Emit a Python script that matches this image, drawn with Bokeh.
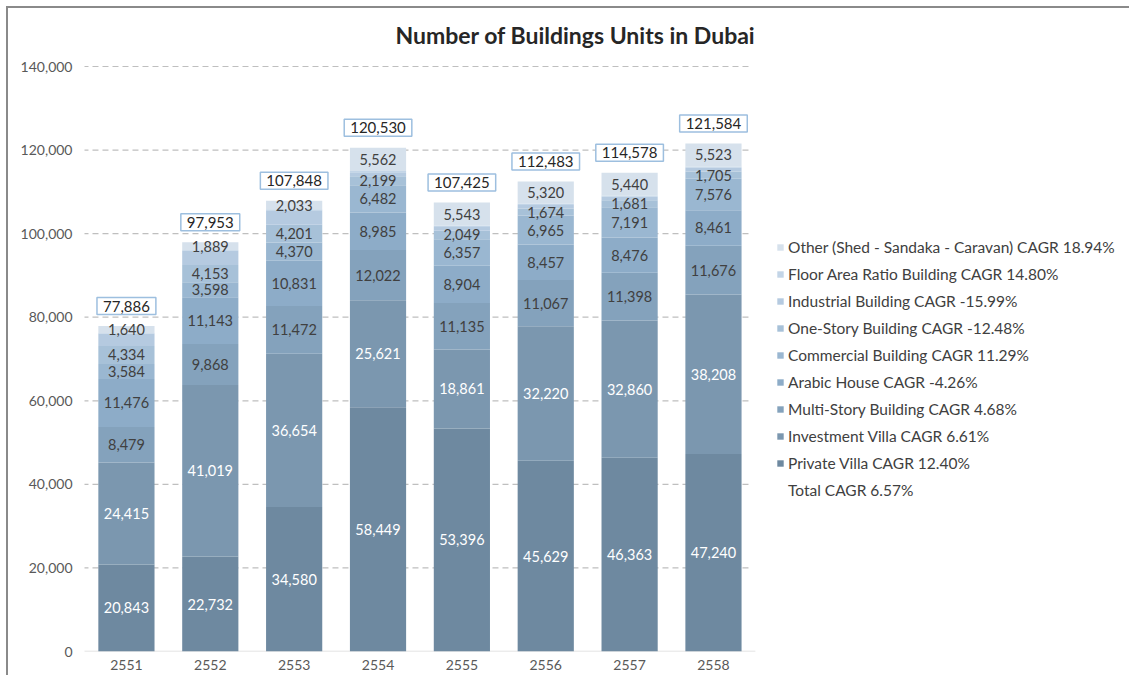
from bokeh.plotting import figure
from bokeh.models import (ColumnDataSource, Legend, LegendItem, Range1d, Label,
                          NumeralTickFormatter, FixedTicker)
from bokeh.core.properties import value
from bokeh.embed import file_html
from bokeh.resources import INLINE

years = ["2551", "2552", "2553", "2554", "2555", "2556", "2557", "2558"]
private_villa = [20843, 22732, 34580, 58449, 53396, 45629, 46363, 47240]
investment_villa = [24415, 41019, 36654, 25621, 18861, 32220, 32860, 38208]
multi_story = [8479, 9868, 11472, 12022, 11135, 11067, 11398, 11676]
arabic_house = [11476, 11143, 10831, 8985, 8904, 8457, 8476, 8461]
commercial = [3584, 3598, 4370, 6482, 6357, 6965, 7191, 7576]
one_story = [4334, 4153, 4201, 2199, 2049, 1674, 1681, 1705]
industrial = [2997, 3391, 3507, 910, 900, 871, 869, 885]
floor_area_ratio = [118, 160, 200, 300, 280, 280, 300, 310]
other = [1640, 1889, 2033, 5562, 5543, 5320, 5440, 5523]
totals = [77886, 97953, 107848, 120530, 107425, 112483, 114578, 121584]
y_ticks = [0, 20000, 40000, 60000, 80000, 100000, 120000, 140000]

series_keys = ["private", "investment", "multi", "arabic", "commercial",
               "onestory", "industrial", "far", "other"]
series_values = [private_villa, investment_villa, multi_story, arabic_house, commercial,
                 one_story, industrial, floor_area_ratio, other]
series_names = ["Private Villa CAGR 12.40%", "Investment Villa CAGR 6.61%",
                "Multi-Story Building CAGR 4.68%", "Arabic House CAGR -4.26%",
                "Commercial Building CAGR 11.29%", "One-Story Building CAGR -12.48%",
                "Industrial Building CAGR -15.99%", "Floor Area Ratio Building CAGR 14.80%",
                "Other (Shed - Sandaka - Caravan) CAGR 18.94%"]
total_label = "Total CAGR 6.57%"
title_text = "Number of Buildings Units in Dubai"
colors = ["#6e89a0", "#7b97af", "#84a2bc", "#8dacc8", "#9ab7d1",
          "#a7c1d8", "#b5cae0", "#c3d5e7", "#d6e1ec"]
labeled = [True, True, True, True, True, True, False, False, True]
label_colors = ["white", "white", "#404040", "#404040", "#404040",
                "#404040", "#404040", "#404040", "#404040"]

FONT = "Lato"
FS = "14.5px"

xs = list(range(len(years)))
data = {"x": xs}
for k, v in zip(series_keys, series_values):
    data[k] = v
source = ColumnDataSource(data)

# frame: bars area plus room for the legend at the right and title at the top
Y_TOP = y_ticks[-1] * 641 / 585
p = figure(x_range=Range1d(-0.5, 11.937), y_range=Range1d(0, Y_TOP),
           frame_width=1043, frame_height=641, output_backend="svg", toolbar_location=None,
           min_border_left=76, min_border_right=2, min_border_top=2, min_border_bottom=24)
p.styles = {"margin-top": "6px", "margin-left": "6px",
            "border-top": "2px solid #8a8a8a", "border-left": "2px solid #8a8a8a"}

# gridlines and base line
grid_y = y_ticks[1:]
p.segment(x0=-0.524, x1=7.418, y0=grid_y, y1=grid_y, line_color="#bfbfbf",
          line_width=1.2, line_dash="6 4")
p.segment(x0=-0.524, x1=7.5, y0=0, y1=0, line_color="#d9d9d9", line_width=1.5)

renderers = p.vbar_stack(series_keys, x="x", width=0.67, color=colors,
                         line_color=None, source=source)

# segment labels
cum = [0] * len(years)
for i, vals in enumerate(series_values):
    centers = [c + v / 2 for c, v in zip(cum, vals)]
    cum = [c + v for c, v in zip(cum, vals)]
    if labeled[i]:
        s = ColumnDataSource(dict(x=xs, y=centers, t=[f"{v:,}" for v in vals]))
        p.text(x="x", y="y", text="t", source=s, text_align="center",
               text_baseline="middle", text_font=value(FONT), text_font_size=FS,
               text_color=label_colors[i])

# total labels
ts = ColumnDataSource(dict(x=xs, y=totals, t=[f"{v:,}" for v in totals]))
p.text(x="x", y="y", text="t", source=ts, y_offset=-20, text_align="center",
       text_baseline="middle", text_font=value(FONT), text_font_size="15px",
       text_color="#262626", background_fill_color="white",
       border_line_color="#9dbfdf", border_line_width=1.5, padding=[6, 6, 3, 3])

dummy = p.vbar(x=[], top=[], width=0.5, fill_alpha=0, line_alpha=0)

items = [LegendItem(label=series_names[i], renderers=[renderers[i]])
         for i in range(len(series_names) - 1, -1, -1)]
items.append(LegendItem(label=total_label, renderers=[dummy]))
legend = Legend(items=items, location=(692, 151), orientation="vertical",
                border_line_color=None, background_fill_alpha=0,
                label_text_font=FONT, label_text_font_size="15.5px",
                label_text_color="#404040", glyph_width=8, glyph_height=8,
                label_height=20, spacing=7, label_standoff=4, padding=0, margin=0)
p.add_layout(legend, "center")

title = Label(x=5.355, y=y_ticks[-1] * 617 / 585, text=title_text, text_align="center",
              text_baseline="middle", text_font=FONT, text_font_size="23px",
              text_font_style="bold", text_color="#262626")
p.add_layout(title)

p.outline_line_color = None
p.xgrid.grid_line_color = None
p.ygrid.grid_line_color = None

p.yaxis.ticker = FixedTicker(ticks=y_ticks)
p.yaxis.formatter = NumeralTickFormatter(format="0,0")
p.yaxis.axis_line_color = None
p.yaxis.major_tick_line_color = None
p.yaxis.minor_tick_line_color = None
p.yaxis.major_label_standoff = 6
p.yaxis.major_label_text_font = FONT
p.yaxis.major_label_text_font_size = "14px"
p.yaxis.major_label_text_color = "#595959"

p.xaxis.ticker = FixedTicker(ticks=xs)
p.xaxis.major_label_overrides = {i: y for i, y in zip(xs, years)}
p.xaxis.axis_line_color = None
p.xaxis.major_tick_line_color = None
p.xaxis.minor_tick_line_color = None
p.xaxis.major_label_standoff = 2
p.xaxis.major_label_text_font = FONT
p.xaxis.major_label_text_font_size = "14px"
p.xaxis.major_label_text_color = "#595959"

open("out.html", "w").write(file_html(p, INLINE))
